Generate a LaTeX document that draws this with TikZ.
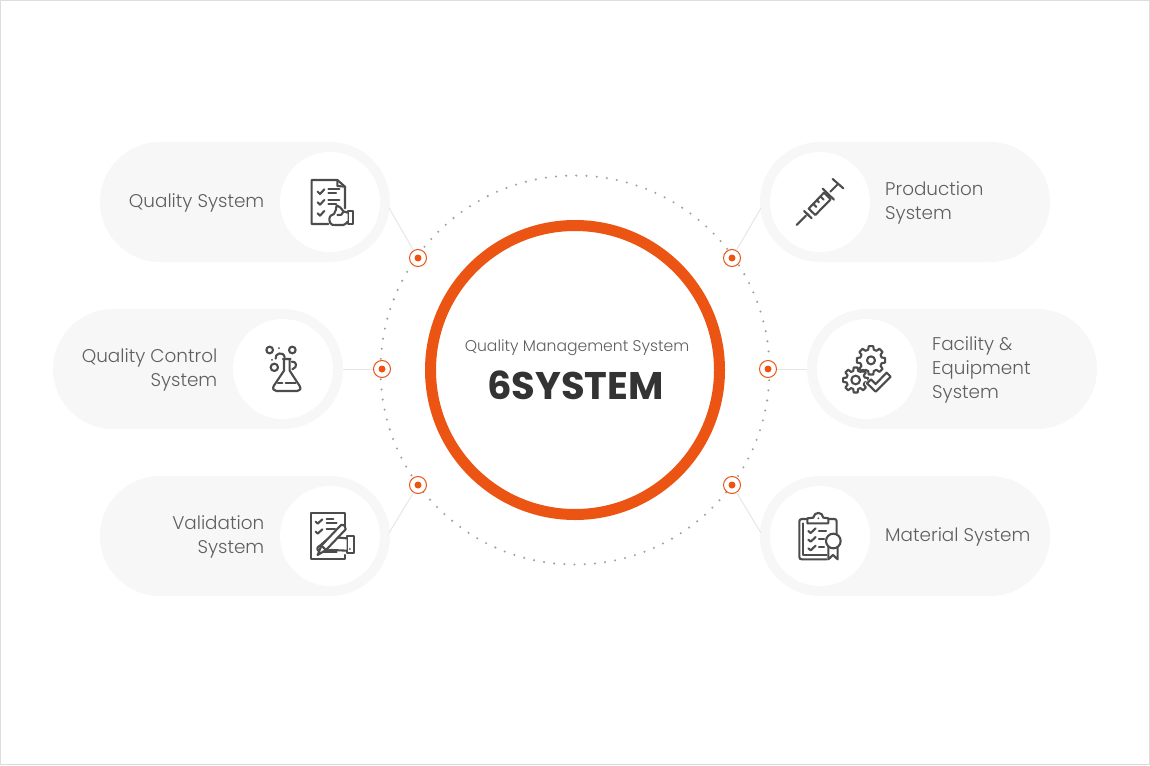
\documentclass[tikz,border=0pt]{standalone}
\usetikzlibrary{calc}
\usepackage{fontspec}
\setmainfont{Poppins Light}
\newfontfamily\boldf{Poppins Bold}
\definecolor{pillc}{HTML}{F7F7F7}
\definecolor{orangec}{HTML}{EC5414}
\definecolor{iconc}{HTML}{4C4C4C}
\definecolor{txtc}{HTML}{5F5F5F}
\definecolor{dotc}{HTML}{A0A0A0}
\definecolor{linec}{HTML}{E6E6E6}
\definecolor{framec}{HTML}{DDDDDD}
\tikzset{
  pill/.style={fill=pillc,draw=none,rounded corners=60pt,minimum width=290pt,minimum height=120pt,inner sep=0pt},
  disc/.style={circle,fill=white,draw=none,minimum size=100pt,inner sep=0pt},
  marker/.style={circle,draw=orangec,fill=white,line width=1pt,minimum size=17pt,inner sep=0pt},
  markdot/.style={circle,fill=orangec,draw=none,minimum size=7pt,inner sep=0pt},
  conn/.style={draw=linec,line width=1pt},
  lab/.style={text=txtc,font=\fontsize{18.4}{24}\selectfont,inner sep=0pt},
  ic/.style={draw=iconc,line width=2.1pt,line join=round,line cap=round},
  iconscope/.style={x=.3333pt,y=-.3333pt},
}
\begin{document}
\begin{tikzpicture}[x=1pt,y=-1pt]
\useasboundingbox (0,0) rectangle (1150,765);
\draw[framec,line width=1pt] (0.5,0.5) rectangle (1149.5,764.5);
% pills
\node[pill] (p1) at (245,202) {};
\node[pill] (p2) at (198,369) {};
\node[pill] (p3) at (245,536) {};
\node[pill] (p4) at (905,202) {};
\node[pill] (p5) at (952,369) {};
\node[pill] (p6) at (905,536) {};
\node[disc] (d1) at (330,202) {};
\node[disc] (d2) at (283,369) {};
\node[disc] (d3) at (330,536) {};
\node[disc] (d4) at (820,202) {};
\node[disc] (d5) at (867,369) {};
\node[disc] (d6) at (820,536) {};
% dotted orbit and main ring
\draw[dotc,line width=2.3pt,line cap=round,dash pattern=on 0pt off 10.2pt] (575,370) circle[radius=194.5];
\node[circle,draw=orangec,fill=white,line width=11pt,minimum size=289pt,inner sep=0pt] (ring) at (575,370) {};
% connectors and markers
\coordinate (c1) at (389,208);
\coordinate (c2) at (343,369);
\coordinate (c3) at (389,533);
\coordinate (c4) at (761,208);
\coordinate (c5) at (807,369);
\coordinate (c6) at (761,533);
\node[marker] (m1) at (418,258) {};
\node[marker] (m2) at (382,369) {};
\node[marker] (m3) at (418,485) {};
\node[marker] (m4) at (732,258) {};
\node[marker] (m5) at (768,369) {};
\node[marker] (m6) at (732,485) {};
\foreach \i in {1,...,6}{
  \draw[conn] (c\i) -- (m\i);
  \node[markdot] (n\i) at (m\i) {};
}
% labels
\node[lab,anchor=east,align=right] (t1) at (264.5,202.5) {Quality System};
\node[lab,anchor=east,align=right] (t2) at (217.5,369.5) {Quality Control\\System};
\node[lab,anchor=east,align=right] (t3) at (264.5,536.5) {Validation\\System};
\node[lab,anchor=west,align=left] (t4) at (885,202.5) {Production\\System};
\node[lab,anchor=west,align=left] (t5) at (932,369.5) {Facility \&\\Equipment\\System};
\node[lab,anchor=west,align=left] (t6) at (885,536.5) {Material System};
\node[text=txtc,font=\fontsize{15.6}{20}\selectfont,inner sep=0pt] (q) at (577,348) {Quality Management System};
\node[text=black!80,font=\boldf\fontsize{38.5}{44}\selectfont,inner sep=0pt] (six) at (575.5,385) {6SYSTEM};
% icon 1
\begin{scope}[shift={(280,150)},iconscope]
\draw[ic] (145,222) -- (95,222) -- (95,90) -- (172,90) -- (195,110) -- (195,175);
\draw[ic] (172,90) -- (172,108) -- (195,110);
\foreach \y in {125,157,190} \draw[ic] (113,\y) -- (120,\y+7) -- (133,\y-7);
\draw[ic] (145,118) -- (178,118) (145,130) -- (168,130) (145,150) -- (178,150) (145,162) -- (168,162);
\draw[ic,fill=white] (203,183) rectangle (220,222);
\draw[ic,fill=white] (203,188) -- (190,184) .. controls (184,175) and (178,168) .. (170,166) .. controls (166,175) and (170,185) .. (162,192) .. controls (155,194) and (148,198) .. (148,208) -- (150,218) .. controls (152,225) and (160,225) .. (165,225) -- (190,225) .. controls (196,224) and (200,218) .. (203,215);
\draw[ic] (172,195) .. controls (180,198) and (188,194) .. (190,186);
\end{scope}
% icon 2
\begin{scope}[shift={(233,320)},iconscope]
\draw[ic] (110,90) circle[radius=10] (178,90) circle[radius=10] (124,142) circle[radius=11];
\fill[iconc] (138,84) circle[radius=3] (117,120) circle[radius=3];
\draw[ic] (128,116) .. controls (124,100) and (152,92) .. (155,112);
\draw[ic] (176,125) .. controls (190,122) and (196,142) .. (178,148);
\draw[ic] (150,117) -- (173,117) (153,117) -- (153,152) -- (122,198) .. controls (118,206) and (122,213) .. (130,213) -- (193,213) .. controls (201,213) and (205,206) .. (200,198) -- (170,152) -- (170,117);
\draw[ic] (135,188) -- (148,188) (158,188) -- (188,188);
\end{scope}
% icon 3
\begin{scope}[shift={(280,470)},iconscope]
\draw[ic] (195,170) -- (195,128) -- (92,128) -- (92,268) -- (195,268) -- (195,255);
\foreach \y in {155,185} \draw[ic] (107,\y) -- (113,\y+6) -- (127,\y-7);
\draw[ic] (140,147) -- (160,147) (140,158) -- (170,158) (140,177) -- (165,177);
\draw[ic,fill=white] (200,197) rectangle (223,250);
\fill[iconc] (210,237) circle[radius=3];
\draw[ic,fill=white] (200,205) -- (178,203) -- (150,205) .. controls (135,210) and (125,225) .. (113,232) .. controls (110,240) and (115,245) .. (125,243) -- (155,240) -- (200,242);
\draw[ic,fill=white] (183,165) .. controls (192,163) and (199,170) .. (197,178) -- (138,240) -- (113,255) -- (124,227) -- cycle;
\draw[ic] (124,227) -- (138,240);
\draw[ic] (130,245) -- (170,245);
\end{scope}
% icon 4
\begin{scope}[shift={(720,150)},iconscope]
\draw[ic] (230,225) -- (258,197);
\draw[ic] (252,183) -- (275,205);
\draw[ic] (260,190) -- (268,198);
\draw[ic] (266,176) -- (312,128) -- (332,148) -- (286,195) -- cycle;
\draw[ic] (308,116) -- (342,149);
\draw[ic] (280,162) -- (289,171) (291,151) -- (297,157) (302,140) -- (311,149);
\draw[ic] (331,125) -- (352,104);
\draw[ic] (338,87) -- (370,115);
\end{scope}
% icon 5
\begin{scope}[shift={(755,320)},iconscope]
\draw[ic] ($(348,121)+(-15:33)$) foreach \a in {0,45,...,315}{ -- ($(348,121)+(\a-15:33)$) -- ($(348,121)+(\a-9:43)$) -- ($(348,121)+(\a+9:43)$) -- ($(348,121)+(\a+15:33)$)} -- cycle;
\draw[ic] (348,121) circle[radius=12];
\draw[ic] ($(302,180)+(-15:28)$) foreach \a in {0,45,...,315}{ -- ($(302,180)+(\a-15:28)$) -- ($(302,180)+(\a-9:38)$) -- ($(302,180)+(\a+9:38)$) -- ($(302,180)+(\a+15:28)$)} -- cycle;
\draw[ic] (302,180) circle[radius=13];
\draw[draw=white,fill=white,line width=3pt] (336,190) -- (348,178) -- (362,192) -- (395,158) -- (407,170) -- (362,215) -- cycle;
\draw[ic,fill=white] (336,190) -- (348,178) -- (362,192) -- (395,158) -- (407,170) -- (362,215) -- cycle;
\end{scope}
% icon 6
\begin{scope}[shift={(720,470)},iconscope]
\draw[ic] (262,147) -- (246,147) .. controls (240,147) and (238,150) .. (238,155) -- (238,260) .. controls (238,266) and (240,268) .. (246,268) -- (320,268);
\draw[ic] (250,160) -- (250,256) -- (320,256);
\draw[ic] (325,147) -- (343,147) .. controls (348,147) and (350,150) .. (350,155) -- (350,195);
\draw[ic] (262,160) -- (262,145) -- (280,143) .. controls (282,124) and (308,124) .. (310,143) -- (325,145) -- (325,160) -- cycle;
\fill[iconc] (295,145) circle[radius=3];
\foreach \y in {183,209,235} \draw[ic] (265,\y) -- (272,\y+6) -- (287,\y-8);
\draw[ic] (297,182) -- (318,182) (297,207) -- (312,207) (297,231) -- (312,231);
\draw[ic] (340,213) circle[radius=22];
\draw[ic] (325,232) -- (325,268) -- (339,255) -- (353,268) -- (353,232);
\end{scope}
\end{tikzpicture}
\end{document}
